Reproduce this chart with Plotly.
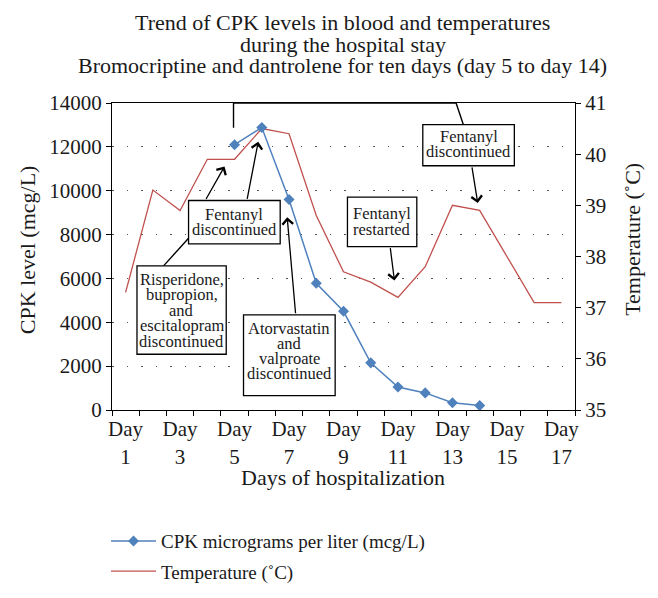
import plotly.graph_objects as go

# ---------------- data ----------------
days = list(range(1, 18))
label_days = [1, 3, 5, 7, 9, 11, 13, 15, 17]
day_ticktext = [f"Day<br>{d}" for d in label_days]

cpk_days = [5, 6, 7, 8, 9, 10, 11, 12, 13, 14]
cpk_values = [12100, 12880, 9600, 5780, 4500, 2150, 1050, 780, 330, 200]

temp_days = days
temp_values = [37.3, 39.3, 38.9, 39.9, 39.9, 40.5, 40.4, 38.8, 37.7, 37.5,
               37.2, 37.8, 39.0, 38.9, 38.0, 37.1, 37.1]

cpk_ticks = [0, 2000, 4000, 6000, 8000, 10000, 12000, 14000]
cpk_ticktext = [str(v) for v in cpk_ticks]
temp_ticks = [35, 36, 37, 38, 39, 40, 41]

title_lines = ["Trend of CPK levels in blood and temperatures",
               "during the hospital stay",
               "Bromocriptine and dantrolene for ten days (day 5 to day 14)"]

FONT = "Liberation Serif"
BLUE = "#4f81bd"
RED = "#c0504d"
TXT = "#1a1a1a"

# ---------------- layout geometry (pixels of the 658x598 window) ----------------
OFF = 8                      # default page body margin around the figure
W, H = 658 - OFF, 598 - OFF  # figure size so it fits the window
PL, PR, PT, PB = 111.7, 575.0, 103.3, 410.0


def px(x):
    return (x - PL) / (PR - PL)


def py(y):
    return (PB - y) / (PB - PT)


fig = go.Figure()

fig.add_trace(go.Scatter(
    x=cpk_days, y=cpk_values, name="CPK micrograms per liter (mcg/L)",
    mode="lines+markers", yaxis="y2", legendgroup="a",
    line=dict(color=BLUE, width=1.5),
    marker=dict(symbol="diamond", size=8.5, color=BLUE)))

fig.add_trace(go.Scatter(
    x=temp_days, y=temp_values, name="Temperature (\u02daC)",
    mode="lines", yaxis="y", legendgroup="b",
    line=dict(color=RED, width=1.3)))

shapes = []
annotations = []

# title lines
for txt, yc in zip(title_lines, [23.3, 44.5, 66.0]):
    annotations.append(dict(text=txt, x=px(342.5), y=py(yc), xref="paper", yref="paper",
                            xanchor="center", yanchor="middle", showarrow=False,
                            font=dict(family=FONT, size=22, color=TXT)))

# axis titles
annotations.append(dict(text="CPK level (mcg/L)", x=px(27), y=py(250), xref="paper", yref="paper",
                        textangle=-90, showarrow=False, xanchor="center", yanchor="middle",
                        font=dict(family=FONT, size=22, color=TXT)))
annotations.append(dict(text="Temperature (\u02daC)", x=px(633), y=py(239), xref="paper", yref="paper",
                        textangle=-90, showarrow=False, xanchor="center", yanchor="middle",
                        font=dict(family=FONT, size=22, color=TXT)))
annotations.append(dict(text="Days of hospitalization", x=px(343.3), y=py(477), xref="paper", yref="paper",
                        showarrow=False, xanchor="center", yanchor="middle",
                        font=dict(family=FONT, size=22, color=TXT)))

# connector lines without arrowheads
line_paths = [
    [(233.3, 128), (233.3, 103.3), (456, 103.3), (463.3, 125)],
    [(163.3, 266), (188.3, 238.4)],
]
for pts in line_paths:
    d = "M " + " L ".join(f"{px(a):.5f},{py(b):.5f}" for a, b in pts)
    shapes.append(dict(type="path", path=d, xref="paper", yref="paper",
                       line=dict(color="black", width=1.4), layer="above"))

# boxes
boxes = [
    ((422.7, 125), (514.3, 166), 468.5, [("Fentanyl", 136.7), ("discontinued", 151.7)]),
    ((188.3, 200.7), (280, 244), 234.0, [("Fentanyl", 215), ("discontinued", 229.3)]),
    ((136.7, 266), (226, 354.3), 181.3, [("Risperidone,", 280), ("bupropion,", 295),
                                         ("and", 310.5), ("escitalopram", 326), ("discontinued", 341.5)]),
    ((243.3, 315), (335, 395.7), 289.0, [("Atorvastatin", 328.3), ("and", 343.3),
                                         ("valproate", 358.3), ("discontinued", 373.3)]),
    ((347.3, 197.3), (416.7, 246.7), 382.0, [("Fentanyl", 213.3), ("restarted", 229.3)]),
]
for (x0, y0), (x1, y1), xc, lines in boxes:
    shapes.append(dict(type="rect", xref="paper", yref="paper",
                       x0=px(x0), x1=px(x1), y0=py(y1), y1=py(y0),
                       fillcolor="white", line=dict(color="black", width=1.3), layer="above"))
    for txt, yc in lines:
        annotations.append(dict(text=txt, x=px(xc), y=py(yc), xref="paper", yref="paper",
                                showarrow=False, xanchor="center", yanchor="middle",
                                font=dict(family=FONT, size=16.5, color=TXT)))

# arrows (tail -> head)
arrows = [
    ((471.7, 166), (477.7, 203.3)),
    ((205, 200.7), (224.3, 166.7)),
    ((246.7, 200.7), (258, 142)),
    ((295.5, 315), (287, 217.5)),
    ((390, 246.7), (394.3, 280.7)),
]
for (tx, ty), (hx, hy) in arrows:
    annotations.append(dict(text="", x=px(hx), y=py(hy), xref="paper", yref="paper",
                            ax=tx - hx, ay=ty - hy, axref="pixel", ayref="pixel",
                            showarrow=True, arrowhead=4, arrowsize=1.6, arrowwidth=1.3,
                            arrowcolor="black"))

fig.update_layout(
    width=W, height=H,
    margin=dict(l=PL - OFF, r=(OFF + W) - PR, t=PT - OFF, b=(OFF + H) - PB, pad=0, autoexpand=False),
    paper_bgcolor="white", plot_bgcolor="white",
    font=dict(family=FONT, size=21, color=TXT),
    showlegend=True,
    legend=dict(x=px(105.7), y=py(522), xanchor="left", yanchor="top",
                font=dict(family=FONT, size=19, color=TXT), itemwidth=45,
                tracegroupgap=2.5, bgcolor="rgba(0,0,0,0)"),
    xaxis=dict(range=[0.5, 17.5], tickmode="array", tickvals=label_days, ticktext=day_ticktext,
               ticks="", showgrid=False, zeroline=False, automargin=False,
               showline=True, linecolor="black", linewidth=1.2, mirror=True,
               tickfont=dict(family=FONT, size=21, color=TXT),
               minor=dict(tickmode="array", tickvals=[d - 0.5 for d in days] + [17.5],
                          ticks="outside", ticklen=5, tickcolor="black", tickwidth=1, showgrid=False)),
    yaxis=dict(range=[35, 41], tickvals=temp_ticks, side="right", showgrid=False, zeroline=False,
               automargin=False,
               showline=True, linecolor="black", linewidth=1.2, ticks="outside", ticklen=5,
               tickcolor="black", tickfont=dict(family=FONT, size=21, color=TXT)),
    yaxis2=dict(range=[0, 14000], tickmode="array", tickvals=cpk_ticks, ticktext=cpk_ticktext,
                side="left", overlaying="y", automargin=False,
                showgrid=True, gridcolor="#555555", griddash="1.5px,13px", gridwidth=1.3,
                zeroline=False, showline=True, linecolor="black", linewidth=1.2,
                ticks="outside", ticklen=5, tickcolor="black", tickfont=dict(family=FONT, size=21, color=TXT)),
    shapes=shapes,
    annotations=annotations,
)

fig.write_html("out.html")
